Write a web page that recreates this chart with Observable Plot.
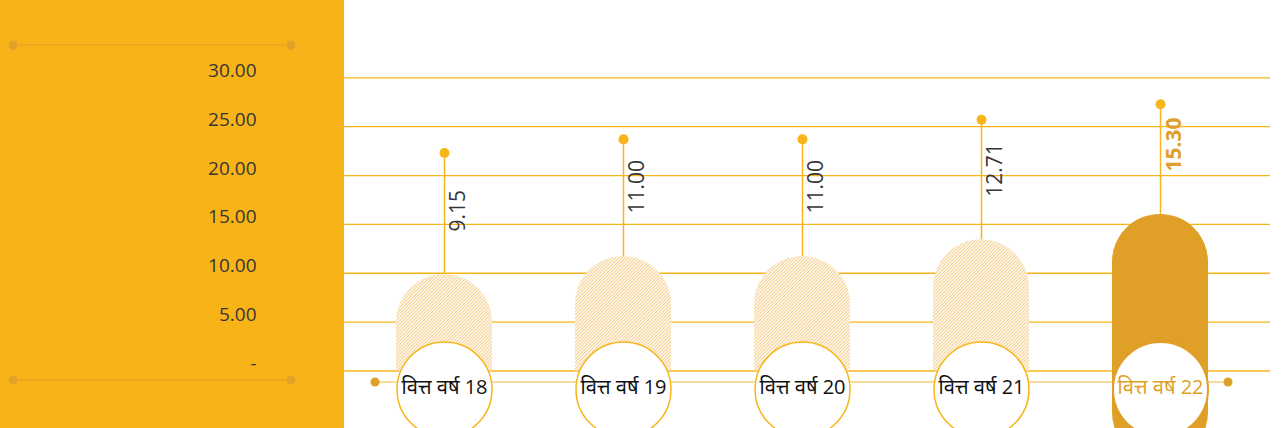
<!DOCTYPE html>
<html><head><meta charset="utf-8">
<script src="https://cdn.jsdelivr.net/npm/d3@7"></script>
<script src="https://cdn.jsdelivr.net/npm/@observablehq/plot@0.6"></script>
<style>
html,body{margin:0;padding:0;background:#fff;}
#chart svg{display:block}
</style></head><body><div id="chart"></div>
<script>
const categories = ["वित्त वर्ष 18","वित्त वर्ष 19","वित्त वर्ष 20","वित्त वर्ष 21","वित्त वर्ष 22"];
const values = [9.15, 11.00, 11.00, 12.71, 15.30];
const valueLabels = ["9.15","11.00","11.00","12.71","15.30"];
const stemTops = [22.3, 23.7, 23.7, 25.7, 27.3];
const highlight = [false, false, false, false, true];
const yTicks = [0, 5, 10, 15, 20, 25, 30];
const yTickLabels = ["-", "5.00", "10.00", "15.00", "20.00", "25.00", "30.00"];

const data = categories.map((c, i) => ({cat: c, value: values[i], label: valueLabels[i], top: stemTops[i], hi: highlight[i]}));
const ticks = yTicks.map((t, i) => ({t, label: yTickLabels[i]}));
const plain = data.filter(d => !d.hi);
const hot = data.filter(d => d.hi);

const YELLOW = "#F8B319", DARK = "#E09F27", INK = "#363636";

function defsMark() {
  const g = d3.create("svg:g");
  const p = g.append("defs").append("pattern").attr("id", "hatch")
    .attr("patternUnits", "userSpaceOnUse").attr("width", 2.4).attr("height", 2.4)
    .attr("patternTransform", "rotate(45)");
  p.append("rect").attr("width", 2.4).attr("height", 2.4).attr("fill", "#fff");
  p.append("line").attr("x1", 0.6).attr("y1", 0).attr("x2", 0.6).attr("y2", 2.4)
    .attr("stroke", "#F4C97E").attr("stroke-width", 1);
  return g.node();
}
function leftDecor() {
  const g = d3.create("svg:g");
  for (const y of [45, 380]) {
    g.append("line").attr("x1", 13).attr("x2", 291).attr("y1", y).attr("y2", y)
      .attr("stroke", "#E29F22").attr("stroke-width", 1);
    for (const x of [13, 291]) g.append("circle").attr("cx", x).attr("cy", y).attr("r", 4.5).attr("fill", "#E3A12A");
  }
  return g.node();
}
function baseline(index, scales, values, dims) {
  const g = d3.create("svg:g");
  const y = dims.height - dims.marginBottom - 7;
  g.append("line").attr("x1", 375).attr("x2", 1228).attr("y1", y).attr("y2", y)
    .attr("stroke", "#F8CF78").attr("stroke-width", 1.6);
  for (const x of [375, 1228]) g.append("circle").attr("cx", x).attr("cy", y).attr("r", 4.5).attr("fill", DARK);
  return g.node();
}

const plot = Plot.plot({
  width: 1281, height: 428,
  marginLeft: 344, marginRight: 11, marginTop: 0, marginBottom: 39,
  style: {background: `linear-gradient(to right, ${YELLOW} 0px, ${YELLOW} 344px, #ffffff 344px)`, fontFamily: "'Open Sans', 'Noto Sans', sans-serif", overflow: "visible"},
  x: {type: "band", domain: categories, range: [360.2, 1243.8], paddingInner: 0.4637, paddingOuter: 0.2, axis: null},
  y: {domain: [0, 30], range: [370.5, 77.3], axis: null},
  marks: [
    defsMark,
    leftDecor,
    Plot.ruleY(yTicks, {stroke: "#F7B519", strokeWidth: 1.3}),
    Plot.text(ticks, {y: "t", text: "label", frameAnchor: "left", dx: -88, dy: -7, textAnchor: "end", fontSize: 19, fill: INK}),
    baseline,
    Plot.ruleX(data, {x: "cat", y1: "value", y2: "top", stroke: "#F7B519", strokeWidth: 1.5}),
    Plot.dot(data, {x: "cat", y: "top", r: 5, fill: "#F7B519"}),
    // hatched pills: rounded cap + straight body down to the zero line
    Plot.barY(plain, {x: "cat", y1: 0, y2: "value", rx: 48, insetTop: -7, fill: "url(#hatch)"}),
    Plot.barY(plain, {x: "cat", y1: 0, y2: "value", insetTop: 41, fill: "url(#hatch)"}),
    Plot.barY(hot, {x: "cat", y1: 0, y2: "value", rx: 48, insetTop: -7, insetBottom: -90, fill: DARK}),
    Plot.dot(plain, {x: "cat", frameAnchor: "bottom", r: 47.5, fill: "#fff", stroke: "#F7B519", strokeWidth: 1.5}),
    Plot.dot(hot, {x: "cat", frameAnchor: "bottom", r: 47.5, fill: "#fff", stroke: DARK, strokeWidth: 2}),
    Plot.text(plain, {x: "cat", text: "cat", frameAnchor: "bottom", dy: 4, fontSize: 20, fill: "#111"}),
    Plot.text(hot, {x: "cat", text: "cat", frameAnchor: "bottom", dy: 4, fontSize: 20, fill: DARK}),
    Plot.text(plain, {x: "cat", y: "value", text: "label", rotate: -90, textAnchor: "start", dx: 14, dy: -50, fontSize: 21, fill: INK}),
    Plot.text(hot, {x: "cat", y: "value", text: "label", rotate: -90, textAnchor: "start", dx: 14, dy: -50, fontSize: 21, fontWeight: "bold", fill: DARK})
  ]
});
document.getElementById("chart").appendChild(plot);
</script></body></html>
